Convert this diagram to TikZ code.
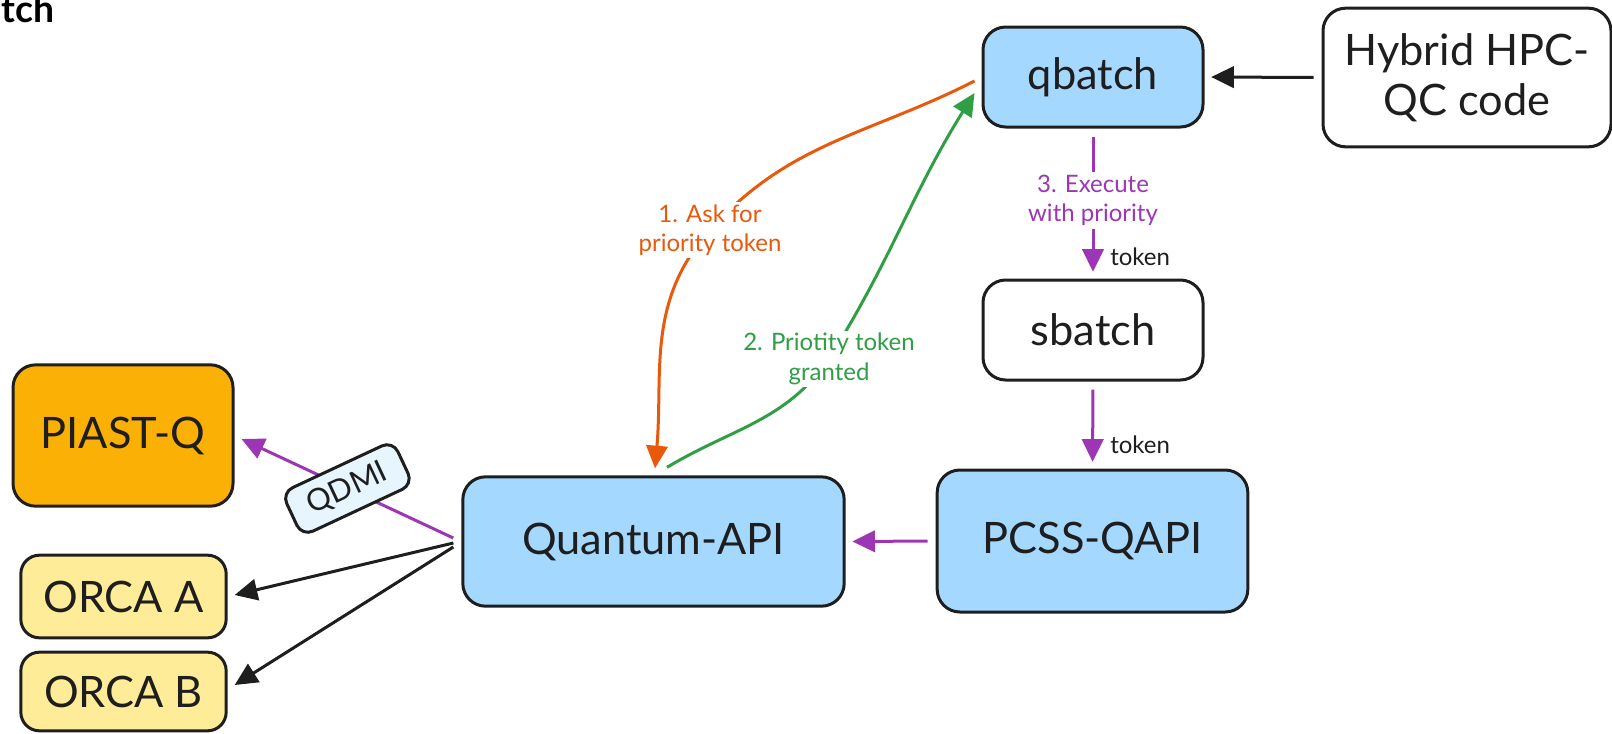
\documentclass[tikz,border=0pt]{standalone}
\usepackage{fontspec}
\setmainfont{Lato}
\usetikzlibrary{arrows.meta,calc}

\definecolor{ink}{HTML}{1E1E1E}
\definecolor{apiblue}{HTML}{A5D8FF}
\definecolor{piastorange}{HTML}{FAB005}
\definecolor{orcayellow}{HTML}{FFEC99}
\definecolor{qdmiblue}{HTML}{E7F5FF}
\definecolor{askorange}{HTML}{E8590C}
\definecolor{grantgreen}{HTML}{2F9E44}
\definecolor{execpurple}{HTML}{9C36B5}

\tikzset{
  box/.style={draw=ink, line width=2.25pt, rounded corners=17pt, align=center,
    inner sep=0pt, text=ink, font=\fontsize{32.5}{37.5}\selectfont},
  flow/.style={line width=2.25pt, -{Triangle[length=17pt,width=16pt]},
    shorten <=6pt, shorten >=5pt},
  edgelbl/.style={fill=white, align=center, inner sep=2pt,
    font=\fontsize{18}{22}\selectfont},
}

\begin{document}
\begin{tikzpicture}[x=0.75pt,y=0.75pt,yscale=-1,xscale=1]
\useasboundingbox (0,0) rectangle (1612,733);

% cut-off title
\node [anchor=base east, inner sep=0pt, text=black, font=\fontsize{28}{32}\selectfont\bfseries] (title) at (55,22) {tch};

% boxes
\node [box, fill=apiblue, minimum width=165pt, minimum height=75pt] (qbatch) at (1093,77) {qbatch};
\node [box, fill=white, minimum width=216pt, minimum height=104pt] (hybrid) at (1467,77.5) {Hybrid HPC-\\QC code};
\node [box, fill=white, minimum width=165pt, minimum height=75pt] (sbatch) at (1093,330) {sbatch};
\node [box, fill=apiblue, minimum width=233pt, minimum height=106.5pt] (pcss) at (1092.5,541) {PCSS-QAPI};
\node [box, fill=apiblue, minimum width=286pt, minimum height=97pt] (qapi) at (653.5,541.5) {Quantum-API};
\node [box, fill=piastorange, minimum width=165pt, minimum height=106pt] (piast) at (123,435.5) {PIAST-Q};
\node [box, fill=orcayellow, rounded corners=14pt, minimum width=154pt, minimum height=62pt] (orcaA) at (123.5,596.5) {ORCA A};
\node [box, fill=orcayellow, rounded corners=14pt, minimum width=154pt, minimum height=59pt] (orcaB) at (123.5,691.5) {ORCA B};

% token request / grant
\coordinate (askpt) at (710,230);
\coordinate (grantpt) at (829,359);
\draw [flow, askorange, shorten <=0pt, shorten >=0pt]
  ($(qbatch.west)+(-7,4)$) to[out=153,in=312] (askpt) to[out=132,in=275] ($(qapi.north)+(1.5,-7)$);
\draw [flow, grantgreen, shorten <=0pt, shorten >=0pt]
  ($(qapi.north)+(13.5,-8)$) to[out=-31,in=125] (grantpt) to[out=-58,in=122] ($(qbatch.west)+(-7,16)$);
\node [edgelbl, text=askorange] (asklbl) at (askpt) {1. Ask for\\priority token};
\node [edgelbl, text=grantgreen] (grantlbl) at (grantpt) {2. Priotity token\\granted};

% execution chain
\draw [flow, ink] (hybrid.west) -- (qbatch.east);
\draw [flow, execpurple] (qbatch.south) -- (sbatch.north)
  node [edgelbl, pos=0.48, text=execpurple] (execlbl) {3. Execute\\with priority};
\node [anchor=west, inner sep=0pt, text=ink, font=\fontsize{18}{22}\selectfont] (tok1) at (1110,257) {token};
\draw [flow, execpurple] (sbatch.south) -- (pcss.north);
\node [anchor=west, inner sep=0pt, text=ink, font=\fontsize{18}{22}\selectfont] (tok2) at (1110,445) {token};
\draw [flow, execpurple] (pcss.west) -- (qapi.east);

% backends
\draw [flow, execpurple, shorten <=0pt, shorten >=0pt] ($(qapi.west)+(-8,-3.5)$) -- ($(piast.east)+(7,3.5)$)
  node [pos=0.5, sloped, draw=ink, fill=qdmiblue, line width=2.25pt, rounded corners=9pt,
    minimum width=92pt, minimum height=36pt, inner sep=0pt, text=ink,
    font=\fontsize{23}{26}\selectfont] (qdmi) {QDMI};
\draw [flow, ink, shorten <=0pt, shorten >=0pt] ($(qapi.west)+(-8,1.5)$) -- ($(orcaA.east)+(7,-1.5)$);
\draw [flow, ink, shorten <=0pt, shorten >=0pt] ($(qapi.west)+(-8,5.5)$) -- ($(orcaB.east)+(7,-6.5)$);
\end{tikzpicture}
\end{document}
